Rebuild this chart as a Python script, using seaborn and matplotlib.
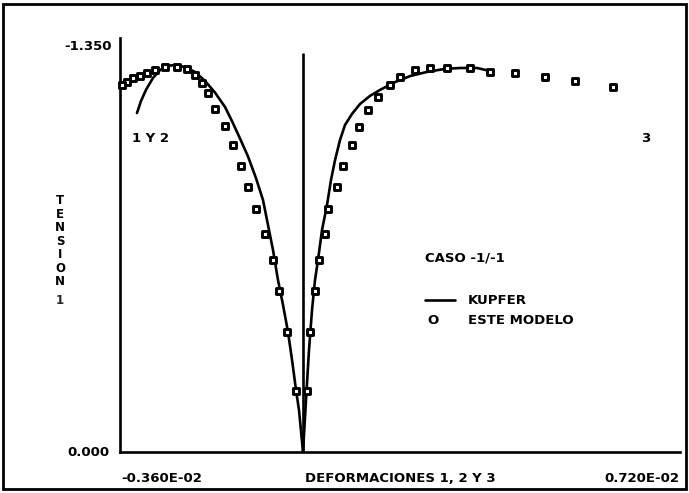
import numpy as np
import pandas as pd
import matplotlib
matplotlib.use("Agg")
import matplotlib.pyplot as plt
from matplotlib.lines import Line2D
from matplotlib.patches import Rectangle
import seaborn as sns

# ---- data (strain in units of 1e-3, stress normalised) ----
kupfer_left_x = [0.0, -0.079, -0.138, -0.216, -0.295, -0.393, -0.492, -0.590, -0.689, -0.787,
                 -0.925, -1.082, -1.239, -1.397, -1.534, -1.731, -1.928, -2.125, -2.321,
                 -2.518, -2.675, -2.813, -2.951, -3.089, -3.187, -3.266]
kupfer_left_y = [0.0, 0.140, 0.207, 0.307, 0.400, 0.490, 0.573, 0.673, 0.757, 0.840,
                 0.913, 0.985, 1.045, 1.103, 1.150, 1.198, 1.237, 1.267, 1.283,
                 1.290, 1.287, 1.273, 1.247, 1.207, 1.170, 1.130]
kupfer_right_x = [0.0, 0.059, 0.118, 0.177, 0.236, 0.295, 0.374, 0.472, 0.551, 0.630, 0.728,
                  0.826, 0.964, 1.121, 1.318, 1.515, 1.810, 2.105, 2.439, 2.793, 3.089,
                  3.423, 3.679]
kupfer_right_y = [0.0, 0.173, 0.340, 0.473, 0.573, 0.640, 0.740, 0.823, 0.907, 0.973, 1.040,
                  1.090, 1.127, 1.160, 1.187, 1.207, 1.233, 1.253, 1.267, 1.277, 1.280,
                  1.280, 1.270]

model_left_x = [-0.138, -0.315, -0.472, -0.590, -0.748, -0.925, -1.082, -1.220, -1.377,
                -1.534, -1.731, -1.869, -1.987, -2.125, -2.282, -2.479, -2.715, -2.911,
                -3.069, -3.207, -3.344, -3.462, -3.561]
model_left_y = [0.203, 0.400, 0.537, 0.640, 0.727, 0.810, 0.883, 0.953, 1.023, 1.087,
                1.143, 1.197, 1.230, 1.257, 1.277, 1.283, 1.283, 1.273, 1.263, 1.253,
                1.247, 1.233, 1.223]
model_right_x = [0.079, 0.138, 0.236, 0.315, 0.433, 0.492, 0.669, 0.787, 0.964, 1.102,
                 1.279, 1.475, 1.711, 1.908, 2.203, 2.498, 2.833, 3.285, 3.679, 4.170,
                 4.761, 5.351, 6.098]
model_right_y = [0.203, 0.400, 0.537, 0.640, 0.727, 0.810, 0.883, 0.953, 1.023, 1.083,
                 1.140, 1.183, 1.223, 1.250, 1.273, 1.280, 1.280, 1.280, 1.267, 1.263,
                 1.250, 1.237, 1.217]

x_tick_minor = [-2.4, -1.2, 0.0, 1.2, 2.4, 3.6, 4.8, 6.0]
x_tick_major = [7.2]
x_label_left = "-0.360E-02"
x_label_right = "0.720E-02"
x_title = "DEFORMACIONES 1, 2 Y 3"
y_label_bottom = "0.000"
y_label_top = "-1.350"
y_tick_major = [0.55, 1.10]
y_tick_minor = [0.11, 0.22, 0.33, 0.44, 0.66, 0.77, 0.88, 0.99, 1.21, 1.32]

kupfer = pd.DataFrame({
    "x": kupfer_left_x + kupfer_right_x,
    "y": kupfer_left_y + kupfer_right_y,
    "rama": ["1 y 2"] * len(kupfer_left_x) + ["3"] * len(kupfer_right_x),
})
modelo = pd.DataFrame({
    "x": model_left_x + model_right_x,
    "y": model_left_y + model_right_y,
})

sns.set_style("white")
plt.rcParams["font.family"] = ["DejaVu Sans"]

W, H = 689, 493
fig = plt.figure(figsize=(W / 100, H / 100), dpi=100)
fig.patch.set_facecolor("white")

def fx(px):
    return px / W

def fy(py):
    return 1 - py / H

ax = fig.add_axes([fx(120), fy(452), fx(680) - fx(120), fy(38) - fy(452)])
ax.set_xlim(-3.6, 7.416)
ax.set_ylim(0, 1.38)

sns.lineplot(data=kupfer, x="x", y="y", units="rama", estimator=None, sort=False,
             color="black", lw=1.9, ax=ax, legend=False)
sns.scatterplot(data=modelo, x="x", y="y", marker="s", s=14, facecolor="white",
                edgecolor="black", linewidth=2.1, ax=ax, legend=False, clip_on=False, zorder=3)
ax.vlines(0, 0, 1.33, color="black", lw=1.9)

for s in ["top", "right"]:
    ax.spines[s].set_visible(False)
for s in ["left", "bottom"]:
    ax.spines[s].set_linewidth(1.9)
    ax.spines[s].set_color("black")

ax.set_xticks(x_tick_major)
ax.set_xticks(x_tick_minor, minor=True)
ax.set_yticks(y_tick_major)
ax.set_yticks(y_tick_minor, minor=True)
ax.set_xticklabels([])
ax.set_yticklabels([])
ax.tick_params(axis="x", which="major", direction="out", length=9, width=1.4, color="black")
ax.tick_params(axis="x", which="minor", direction="out", length=4, width=1.4, color="black")
ax.tick_params(axis="y", which="major", direction="out", length=6, width=1.4, color="black")
ax.tick_params(axis="y", which="minor", direction="out", length=3, width=1.4, color="black")
ax.set_xlabel("")
ax.set_ylabel("")

fs = 9.5
kw = dict(fontsize=fs, fontweight="heavy", color="black")
fig.text(fx(121), fy(478), x_label_left, ha="left", va="center", **kw)
fig.text(fx(305), fy(478), x_title, ha="left", va="center", **kw)
fig.text(fx(679), fy(478), x_label_right, ha="right", va="center", **kw)
fig.text(fx(110), fy(452), y_label_bottom, ha="right", va="center", **kw)
fig.text(fx(112), fy(46), y_label_top, ha="right", va="center", **kw)
fig.text(fx(132), fy(138), "1 Y 2", ha="left", va="center", **kw)
fig.text(fx(646), fy(138), "3", ha="center", va="center", **kw)
fig.text(fx(60), fy(241), "T\nE\nN\nS\nI\nO\nN", ha="center", va="center",
         linespacing=1.05, fontsize=8.5, fontweight="heavy", color="black")
fig.text(fx(60), fy(300), "1", ha="center", va="center", fontsize=8.5, fontweight="heavy")

# legend
fig.text(fx(425), fy(258), "CASO -1/-1", ha="left", va="center", **kw)
fig.add_artist(Line2D([fx(425), fx(455)], [fy(300), fy(300)], color="black", lw=1.9))
fig.text(fx(468), fy(300), "KUPFER", ha="left", va="center", **kw)
fig.text(fx(433), fy(320), "O", ha="center", va="center", **kw)
fig.text(fx(468), fy(320), "ESTE MODELO", ha="left", va="center", **kw)

# outer frame
fig.add_artist(Rectangle((fx(3), fy(489)), fx(686) - fx(3), fy(4) - fy(489),
                         transform=fig.transFigure, fill=False, edgecolor="black", lw=2.0))

fig.savefig("out.png", dpi=100)
